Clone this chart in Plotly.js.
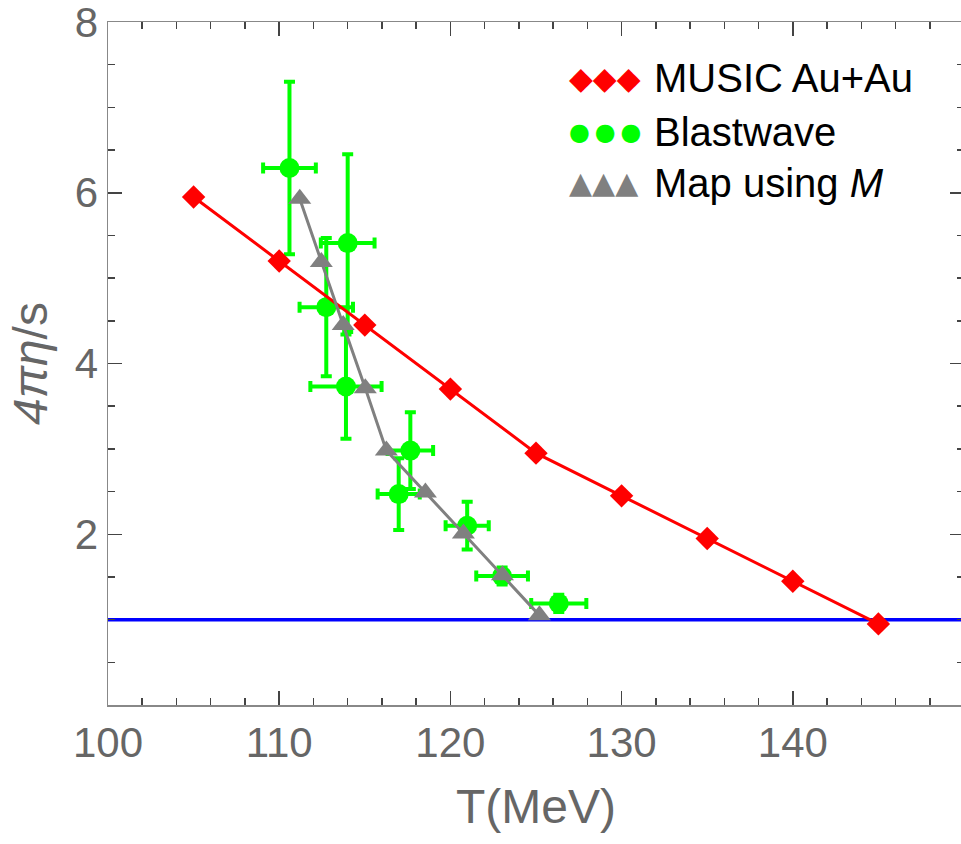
<!DOCTYPE html>
<html><head><meta charset="utf-8">
<script src="https://cdn.plot.ly/plotly-3.0.1.min.js"></script>
<style>html,body{margin:0;padding:0;overflow:hidden;background:#fff}</style>
</head><body><div id="chart" style="width:964px;height:844px"></div>
<script>
// MUSIC Au+Au
const musicT = [105, 110, 115, 120, 125, 130, 135, 140, 145];
const musicEta = [5.95, 5.2, 4.45, 3.7, 2.95, 2.45, 1.95, 1.45, 0.95];
// Blastwave
const blastT = [110.6, 114.0, 112.75, 113.9, 117.66, 116.98, 120.98, 123.02, 126.33];
const blastEta = [6.29, 5.41, 4.66, 3.73, 2.98, 2.47, 2.10, 1.51, 1.19];
const blastErrEta = [1.01, 1.04, 0.81, 0.61, 0.45, 0.42, 0.28, 0.1, 0.1];
const blastErrT = [1.54, 1.57, 1.56, 2.08, 1.33, 1.23, 1.26, 1.51, 1.61];
// Map using M
const mapT = [111.2, 112.46, 113.74, 115.03, 116.26, 118.54, 120.76, 123.04, 125.2];
const mapEta = [5.93, 5.19, 4.45, 3.71, 2.98, 2.49, 2.01, 1.52, 1.05];
// KSS bound line
const boundT = [100, 150];
const boundEta = [1, 1];
// Axis ticks
const xTicks = [100, 110, 120, 130, 140];
const yTicks = [2, 4, 6, 8];
// Legend
const legendLabels = ['MUSIC Au+Au', 'Blastwave', 'Map using <i>M</i>'];
const legendGlyphs = ['\u25C6\u25C6\u25C6', '\u25CF\u2009\u25CF\u2009\u25CF', '\u25B2\u25B2\u25B2'];
const legendGlyphSizes = [31, 24, 30];
const legendColors = ['#ff0000', '#00ff00', '#808080'];

const traces = [
  {x: boundT, y: boundEta, mode: 'lines', line: {color: '#0000ff', width: 3.5}, hoverinfo: 'skip'},
  {x: blastT, y: blastEta, mode: 'markers', name: legendLabels[1],
   marker: {symbol: 'circle', size: 20, color: '#00ff00'},
   error_y: {type: 'data', array: blastErrEta, visible: true, color: '#00ff00', thickness: 4, width: 5.5},
   error_x: {type: 'data', array: blastErrT, visible: true, color: '#00ff00', thickness: 4, width: 5.5}},
  {x: musicT, y: musicEta, mode: 'lines+markers', name: legendLabels[0],
   line: {color: '#ff0000', width: 3},
   marker: {symbol: 'diamond', size: 18, color: '#ff0000'}},
  {x: mapT, y: mapEta, mode: 'lines+markers', name: legendLabels[2],
   line: {color: '#808080', width: 3},
   marker: {symbol: 'triangle-up', size: 20, color: '#808080'}}
];

const rowY = [0.918, 0.839, 0.765];
const annotations = [];
for (let i = 0; i < 3; i++) {
  annotations.push({xref: 'paper', yref: 'paper', x: 0.536, y: rowY[i], xanchor: 'left', yanchor: 'middle',
    text: legendGlyphs[i], showarrow: false, font: {family: 'DejaVu Sans', size: legendGlyphSizes[i], color: legendColors[i]}});
  annotations.push({xref: 'paper', yref: 'paper', x: 0.636, y: rowY[i], xanchor: 'left', yanchor: 'middle',
    text: legendLabels[i], showarrow: false, font: {family: 'Liberation Sans, Arial, sans-serif', size: 40, color: '#000'}});
}

const axisCommon = {
  showgrid: false, zeroline: false, showline: true, linecolor: '#888', linewidth: 1.5,
  mirror: 'ticks', ticks: 'inside', ticklen: 14, tickwidth: 1.5, tickcolor: '#444',
  ticklabeloverflow: 'allow',
  tickfont: {family: 'Liberation Sans, Arial, sans-serif', size: 42, color: '#666'}
};

const layout = {
  width: 964, height: 844,
  margin: {l: 108, r: 0, t: 22, b: 139},
  paper_bgcolor: '#fff', plot_bgcolor: '#fff',
  showlegend: false,
  xaxis: Object.assign({}, axisCommon, {
    range: [100, 150], tickmode: 'array', tickvals: xTicks,
    minor: {dtick: 2, tick0: 100, ticklen: 7, ticks: 'inside', tickcolor: '#444', tickwidth: 1.5},
    title: {text: 'T(MeV)', font: {family: 'Liberation Sans, Arial, sans-serif', size: 48, color: '#666'}, standoff: 24}
  }),
  yaxis: Object.assign({}, axisCommon, {
    range: [0, 8], tickmode: 'array', tickvals: yTicks,
    minor: {dtick: 0.5, tick0: 0, ticklen: 7, ticks: 'inside', tickcolor: '#444', tickwidth: 1.5},
    title: {text: '<i>4\u03C0\u03B7</i>/s', font: {family: 'Liberation Sans, Arial, sans-serif', size: 48, color: '#666'}, standoff: 12}
  }),
  annotations: annotations
};

Plotly.newPlot('chart', traces, layout, {displayModeBar: false, staticPlot: true});
</script></body></html>
